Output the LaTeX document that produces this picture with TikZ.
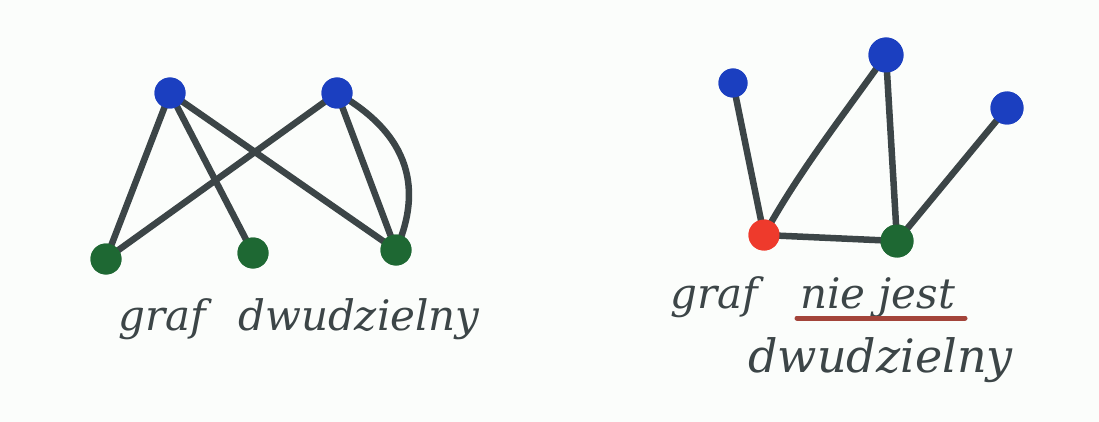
\documentclass[tikz,border=0pt]{standalone}
\usepackage{fontspec}
\setmainfont{DejaVu Serif}
\begin{document}
\begin{tikzpicture}[x=1pt,y=-1pt,
  edge/.style={line width=6.5pt,draw=edgegray,line cap=round},
  vblue/.style={circle,fill=dotblue,inner sep=0pt,minimum size=31pt},
  vgreen/.style={circle,fill=dotgreen,inner sep=0pt,minimum size=31pt},
  vred/.style={circle,fill=dotred,inner sep=0pt,minimum size=31pt},
  hand/.style={text=edgegray,font=\itshape\fontsize{42}{44}\selectfont,inner sep=0pt,anchor=base west}]
\definecolor{edgegray}{HTML}{3C4547}
\definecolor{dotblue}{HTML}{1B3FC0}
\definecolor{dotgreen}{HTML}{1E6833}
\definecolor{dotred}{HTML}{EE3A2C}
\definecolor{ulred}{HTML}{A3443A}
\definecolor{paper}{HTML}{FBFDFB}
\fill[paper] (0,0) rectangle (1099,422);
\useasboundingbox (0,0) rectangle (1099,422);
% left graph
\node[vblue] (b1) at (170,93) {};
\node[vblue] (b2) at (337,93) {};
\node[vgreen] (g1) at (106,259) {};
\node[vgreen] (g2) at (253,253) {};
\node[vgreen] (g3) at (396,250) {};
\draw[edge] (b1.center) -- (g1.center);
\draw[edge] (b1.center) -- (g2.center);
\draw[edge] (b1.center) -- (g3.center);
\draw[edge] (b2.center) -- (g1.center);
\draw[edge] (b2.center) -- (g3.center);
\draw[edge] (b2.center) .. controls (420,140) and (418,200) .. (g3.center);
\node[vblue] at (b1) {};
\node[vblue] at (b2) {};
\node[vgreen] at (g1) {};
\node[vgreen] at (g2) {};
\node[vgreen] at (g3) {};
% right graph
\node[vblue,minimum size=29pt] (b3) at (733,83) {};
\node[vblue,minimum size=35pt] (b4) at (886,55) {};
\node[vblue,minimum size=33pt] (b5) at (1007,108) {};
\node[vred] (r) at (764,235) {};
\node[vgreen,minimum size=33pt] (g4) at (897,241) {};
\draw[edge] (b3.center) -- (r.center);
\draw[edge] (b4.center) .. controls (840,120) and (800,170) .. (r.center);
\draw[edge] (b4.center) -- (g4.center);
\draw[edge] (b5.center) -- (g4.center);
\draw[edge] (r.center) -- (g4.center);
\node[vblue,minimum size=29pt] at (b3) {};
\node[vblue,minimum size=35pt] at (b4) {};
\node[vblue,minimum size=33pt] at (b5) {};
\node[vred] at (r) {};
\node[vgreen,minimum size=33pt] at (g4) {};
% texts
\node[hand] (t1a) at (118,330) {graf};
\node[hand] (t1b) at (238,330) {dwudzielny};
\node[hand] (t2a) at (670,308) {graf};
\node[hand] (t2b) at (800,308) {nie jest};
\node[hand,font=\itshape\fontsize{46}{48}\selectfont] (t3) at (748,372) {dwudzielny};
\coordinate (u1) at (797,318);
\coordinate (u2) at (965,318);
\draw[line width=5pt,ulred,line cap=round] (u1) -- (u2);
\end{tikzpicture}
\end{document}
